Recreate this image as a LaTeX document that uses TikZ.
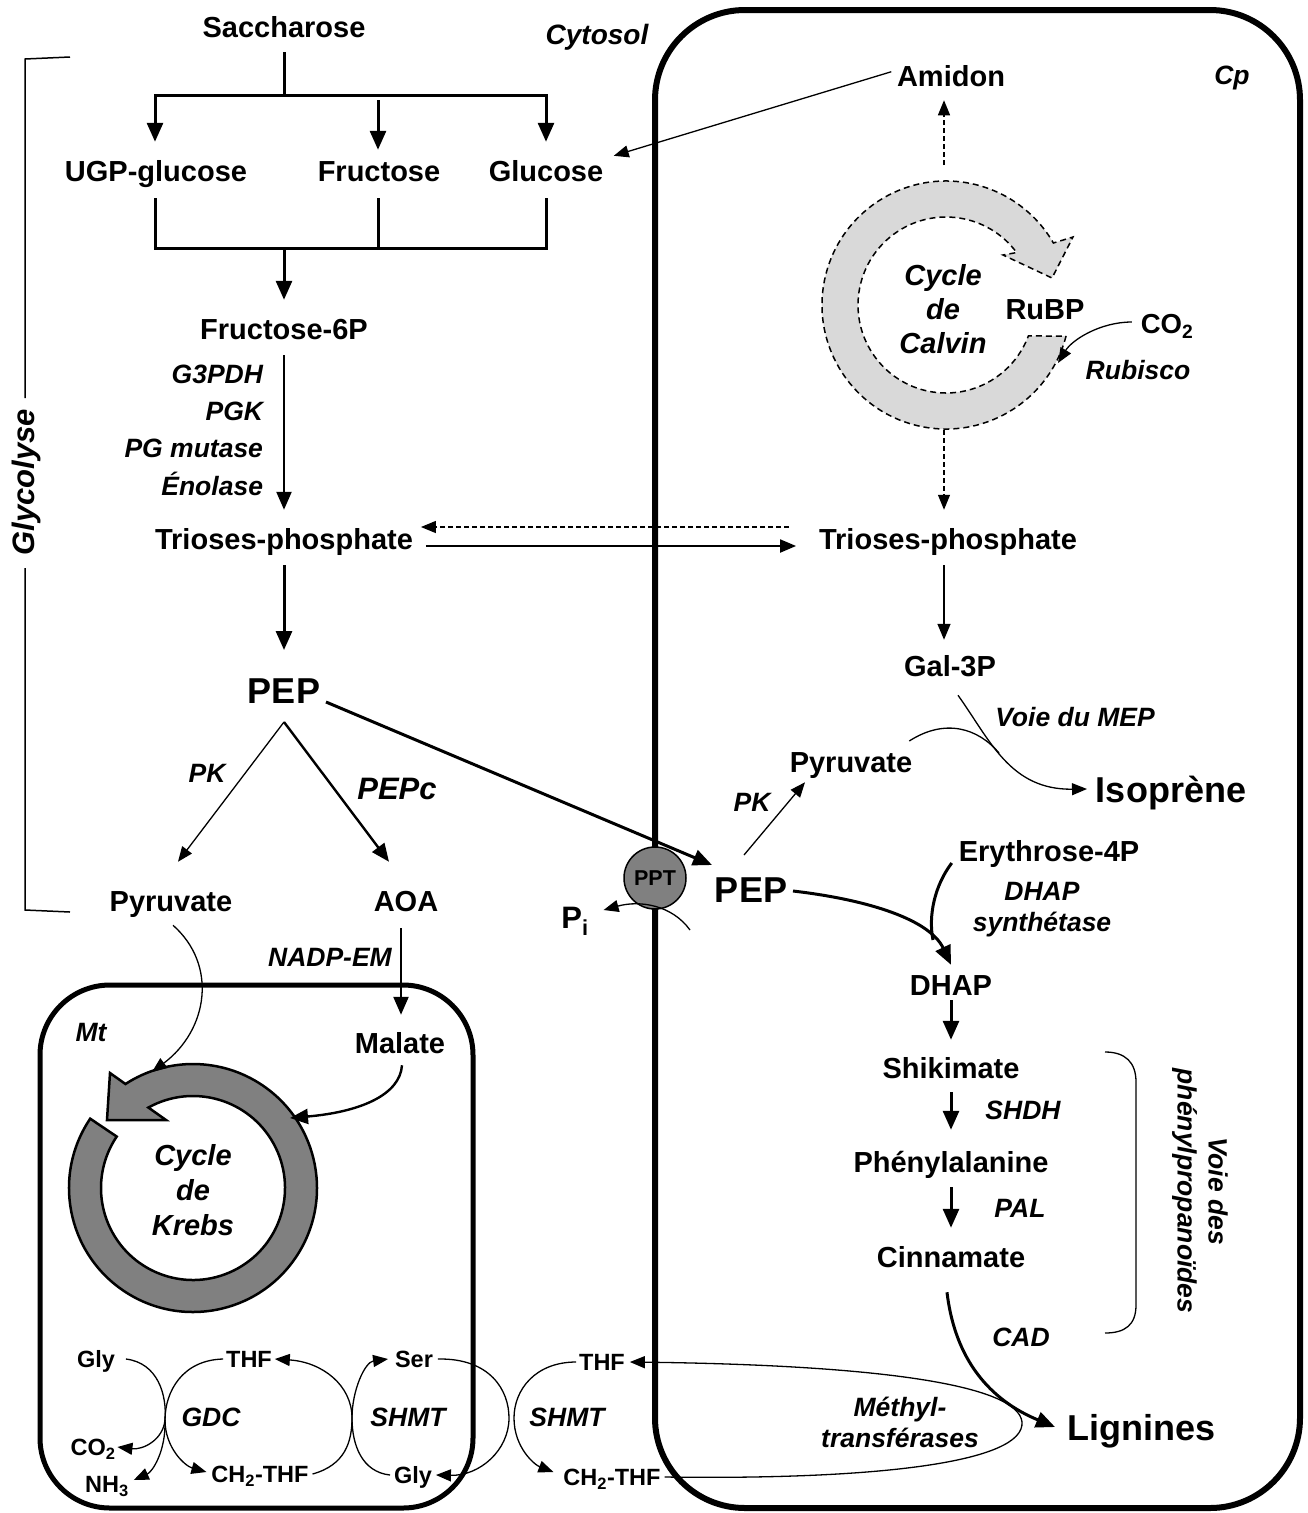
\documentclass[tikz,border=0pt]{standalone}
\usepackage{fontspec}
\setmainfont{Liberation Sans}
\usetikzlibrary{arrows.meta}
\definecolor{calv}{HTML}{D9D9D9}
\definecolor{kreb}{HTML}{808080}
\begin{document}
\begin{tikzpicture}[x=1pt,y=-1pt,
  every node/.style={inner sep=0pt, outer sep=0pt},
  t/.style={font=\fontsize{29}{32}\selectfont\bfseries, text height=20.5pt, text depth=0pt},
  it/.style={font=\fontsize{26.5}{31}\selectfont\bfseries\itshape, text height=19pt, text depth=0pt},
  itm/.style={font=\fontsize{26.5}{31}\selectfont\bfseries\itshape, align=center},
  big/.style={font=\fontsize{36}{40}\selectfont\bfseries, text height=26pt, text depth=0pt},
  sm/.style={font=\fontsize{23.5}{25}\selectfont\bfseries, text height=17pt, text depth=0pt},
  lA/.style={line width=3pt},
  aA/.style={line width=3pt, -{Triangle[length=19pt,width=16pt]}},
  aB/.style={line width=2.4pt, -{Triangle[length=18pt,width=15pt]}},
  aC/.style={line width=1.6pt, -{Triangle[length=16pt,width=13pt]}},
  aD/.style={line width=1.3pt, -{Triangle[length=15pt,width=12pt]}},
  dsh/.style={dash pattern=on 5pt off 3pt},
  ring/.style={line width=1.5pt, dash pattern=on 6pt off 4pt},
]
\useasboundingbox (0,0) rectangle (1308,1513);

% compartments
\draw[line width=6pt, rounded corners=90pt] (655,10) rectangle (1300,1508);
\draw[line width=5pt, rounded corners=70pt] (40,985) rectangle (473,1508);

% glycolysis bracket
\draw[line width=1.5pt] (70,57) -- (25,59) -- (25,398);
\draw[line width=1.5pt] (25,568) -- (25,910) -- (70,912);

% Calvin ring
\filldraw[fill=calv, draw=black, ring]
  ([shift={(14.5:124)}]946,305) arc[start angle=14.5, end angle=330, radius=124]
  -- (1073,237) -- (1052,278) -- (1003,255)
  -- ([shift={(323.4:88)}]946,305) arc[start angle=323.4, end angle=20.6, radius=88] -- cycle;

% Krebs ring
\filldraw[fill=kreb, draw=black, line width=2.5pt]
  ([shift={(214:124)}]193,1188) arc[start angle=214, end angle=-123, radius=124]
  -- (110,1073) -- (107,1120) -- (166,1120)
  -- ([shift={(-119:92)}]193,1188) arc[start angle=-119, end angle=214, radius=92] -- cycle;

% nodes
\node[t] (sac) at (284,27) {Saccharose};
\node[it, font=\fontsize{28}{31}\selectfont\bfseries\itshape] (cyt) at (597,35) {Cytosol};
\node[t] (ami) at (951,76) {Amidon};
\node[it] (cp) at (1232,75) {Cp};
\node[t] (ugp) at (156,171) {UGP-glucose};
\node[t] (fru) at (379,171) {Fructose};
\node[t] (glc) at (546,171) {Glucose};
\node[t] (f6p) at (284,329) {Fructose-6P};
\node[it, anchor=east] (g3pdh) at (263,374) {G3PDH};
\node[it, anchor=east] (pgk) at (263,411) {PGK};
\node[it, anchor=east] (pgm) at (263,448) {PG mutase};
\node[it, anchor=east] (eno) at (263,486) {Énolase};
\node[t] (triL) at (284,539) {Trioses-phosphate};
\node[t] (triR) at (948,539) {Trioses-phosphate};
\node[itm, font=\fontsize{29}{34}\selectfont\bfseries\itshape] (calvin) at (943,309) {Cycle\\de\\Calvin};
\node[t] (rubp) at (1045,309) {RuBP};
\node[t, font=\fontsize{27.5}{30}\selectfont\bfseries] (co2) at (1167,323) {CO\textsubscript{2}};
\node[it] (rub) at (1138,370) {Rubisco};
\node[t] (gal) at (950,666) {Gal-3P};
\node[it] (mep) at (1075,717) {Voie du MEP};
\node[t] (pyrR) at (851,762) {Pyruvate};
\node[big] (iso) at (1171,789) {Isoprène};
\node[it] (pkR) at (752,802) {PK};
\node[big] (pepL) at (284,690) {PEP};
\node[it] (pkL) at (207,773) {PK};
\node[it, font=\fontsize{31}{34}\selectfont\bfseries\itshape] (pepc) at (397,790) {PEPc};
\node[t] (ery) at (1049,851) {Erythrose-4P};
\node[itm] (dhaps) at (1042,910) {DHAP\\synthétase};
\node[big] (pepR) at (751,889) {PEP};
\node[circle, draw, fill=kreb, line width=1.5pt, minimum size=62pt, font=\fontsize{21.5}{22}\selectfont\bfseries] (ppt) at (655,878) {PPT};
\node[t, font=\fontsize{31}{32}\selectfont\bfseries] (pi) at (575,918) {P\textsubscript{i}};
\node[t] (pyrL) at (171,901) {Pyruvate};
\node[t] (aoa) at (406,901) {AOA};
\node[it] (nadp) at (330,957) {NADP-EM};
\node[t] (dhap) at (951,985) {DHAP};
\node[t] (mal) at (400,1043) {Malate};
\node[it] (mt) at (91,1032) {Mt};
\node[t] (shik) at (951,1068) {Shikimate};
\node[it] (shdh) at (1023,1110) {SHDH};
\node[t] (phe) at (951,1162) {Phénylalanine};
\node[it] (pal) at (1020,1208) {PAL};
\node[t] (cin) at (951,1257) {Cinnamate};
\node[it] (cad) at (1021,1337) {CAD};
\node[itm, rotate=-90] (voie) at (1200,1191) {Voie des\\phénylpropanoïdes};
\node[big] (lig) at (1141,1427) {Lignines};
\node[itm, font=\fontsize{29}{35}\selectfont\bfseries\itshape] (krebs) at (193,1190) {Cycle\\de\\Krebs};
\node[it, rotate=90, font=\fontsize{31}{32}\selectfont\bfseries\itshape] (glyco) at (25,482) {Glycolyse};
\node[sm] (gly1) at (96,1359) {Gly};
\node[sm] (thf1) at (249,1359) {THF};
\node[sm] (ser) at (414,1359) {Ser};
\node[it] (gdc) at (211,1417) {GDC};
\node[it] (shmt1) at (408,1417) {SHMT};
\node[sm] (co2b) at (93,1447) {CO\textsubscript{2}};
\node[sm] (nh3) at (107,1484) {NH\textsubscript{3}};
\node[sm] (ch2a) at (260,1474) {CH\textsubscript{2}-THF};
\node[sm] (gly2) at (413,1475) {Gly};
\node[sm] (thf2) at (602,1362) {THF};
\node[it] (shmt2) at (567,1417) {SHMT};
\node[sm] (ch2b) at (612,1477) {CH\textsubscript{2}-THF};
\node[itm] (meth) at (900,1422) {Méthyl-\\transférases};

% coordinates
\coordinate (jt) at (284,95);
\coordinate (jl) at (155,95);
\coordinate (jr) at (546,95);
\coordinate (jf) at (378,100);
\coordinate (kl) at (155,248);
\coordinate (kr) at (546,248);
\coordinate (kt) at (284,248);
\coordinate (ctop) at (944,165);
\coordinate (cbot) at (944,430);
\coordinate (rubin) at (1058,363);
\coordinate (pist) at (690,930);
\coordinate (kin1) at (152,1072);
\coordinate (kin2) at (290,1118);
\coordinate (gdcx) at (165,1420);
\coordinate (shx) at (352,1418);
\coordinate (loopx) at (509,1418);
\coordinate (shx2) at (514,1418);

% top distribution
\draw[lA, shorten <=15pt] (sac.south) -- (jt);
\draw[aA, shorten >=19pt] (jr) -- (jl) -- (jl |- ugp.north);
\draw[aA, shorten >=19pt] (jl) -- (jr) -- (jr |- glc.north);
\draw[aA, shorten >=11pt] (jf) -- (jf |- fru.north);
\draw[lA, shorten <=17pt, shorten >=17pt] (kl |- ugp.south) -- (kl) -- (kr) -- (kr |- glc.south);
\draw[lA, shorten <=17pt] (jf |- fru.south) -- (jf |- kl);
\draw[aA, shorten >=19pt] (kt) -- (f6p.north);

% glycolysis
\draw[aB, shorten <=16pt, shorten >=19pt] (f6p.south) -- (triL.north);
\draw[aA, shorten <=16pt, shorten >=27pt] (triL.south) -- (pepL.north);
\draw[aD, dsh, shorten <=30pt, shorten >=8pt] ([yshift=12pt]triR.west) -- ([yshift=12pt]triL.east);
\draw[aC, line width=2pt, shorten <=13pt, shorten >=23pt] ([yshift=-7pt]triL.east) -- ([yshift=-7pt]triR.west);
\draw[aD, shorten <=6pt, shorten >=11pt] ([yshift=6pt]ami.west) -- ([yshift=12pt]glc.east);

% Calvin
\draw[aD, dsh, shorten >=14pt] (ctop) -- (ctop |- ami.south);
\draw[aD, dsh, shorten >=19pt] (cbot) -- (cbot |- triR.north);
\draw[aD] ([shift={(-9pt,1pt)}]co2.west) .. controls (1100,322) and (1072,340) .. (rubin);
\draw[aC, shorten <=16pt, shorten >=16pt] (cbot |- triR.south) -- (cbot |- gal.north);

% PEP
\draw[aD] ([shift={(0pt,-19pt)}]pepL.south) -- ([shift={(7pt,29pt)}]pyrL.north);
\draw[aB] ([shift={(0pt,-19pt)}]pepL.south) -- ([shift={(-17pt,29pt)}]aoa.north);
\draw[aA] ([shift={(6pt,-12pt)}]pepL.east) -- ([shift={(-3pt,24pt)}]pepR.west);
\draw[aD] ([shift={(-7pt,21pt)}]pepR.north) -- ([shift={(-46pt,-10pt)}]pyrR.south);
\draw[aD] ([shift={(8pt,-19pt)}]gal.south) .. controls (990,740) and (1010,790) .. ([xshift=-9pt]iso.west);
\draw[line width=1.3pt] ([shift={(-3pt,21pt)}]pyrR.east) .. controls (945,718) and (978,728) .. (999,753);
\draw[aA] ([shift={(6pt,-2pt)}]pepR.east) .. controls (870,900) and (930,920) .. ([yshift=10pt]dhap.north);
\draw[lA] ([shift={(-7pt,-12pt)}]ery.west) .. controls (935,885) and (928,915) .. (933,940);
\draw[aD] (pist) .. controls (672,905) and (640,900) .. ([shift={(15pt,8pt)}]pi.east);

% shikimate path
\draw[aA, shorten <=5pt, shorten >=18pt] (dhap.south) -- (shik.north);
\draw[aA, shorten <=14pt, shorten >=22pt] (shik.south) -- (phe.north);
\draw[aA, shorten <=15pt, shorten >=19pt] (phe.south) -- (cin.north);
\draw[aA] ([shift={(-4pt,-25pt)}]cin.south) .. controls (955,1360) and (990,1400) .. ([xshift=-12pt]lig.west);
\draw[line width=1.3pt] (1105,1052) .. controls (1125,1052) and (1136,1062) .. (1136,1082) -- (1136,1305) .. controls (1136,1325) and (1125,1333) .. (1105,1333);

% mitochondrion inputs
\draw[aD] ([shift={(2pt,-14pt)}]pyrL.south) .. controls (218,965) and (208,1030) .. (kin1);
\draw[aB, shorten <=17pt, shorten >=18pt] ([xshift=-5pt]aoa.south) -- ([xshift=1pt]mal.north);
\draw[aB] ([shift={(2pt,-12pt)}]mal.south) .. controls (400,1095) and (360,1112) .. (kin2);

% C1 metabolism
\draw[line width=1.3pt] ([xshift=11pt]gly1.east) .. controls (158,1363) and (167,1395) .. (gdcx);
\draw[aD] (gdcx) .. controls (163,1440) and (143,1450) .. ([xshift=2pt]co2b.east);
\draw[aD] (gdcx) .. controls (166,1452) and (152,1472) .. ([shift={(5pt,4pt)}]nh3.east);
\draw[aD] ([xshift=-3pt]thf1.west) .. controls (182,1360) and (165,1392) .. (gdcx) .. controls (165,1448) and (185,1466) .. ([shift={(-5pt,2pt)}]ch2a.west);
\draw[aD] ([xshift=4pt]ch2a.east) .. controls (345,1465) and (352,1442) .. (shx) .. controls (352,1385) and (322,1362) .. ([xshift=3pt]thf1.east);
\draw[aD] ([xshift=-4pt]gly2.west) .. controls (362,1472) and (352,1445) .. (shx) .. controls (352,1390) and (365,1362) .. ([xshift=-7pt]ser.west);
\draw[aD] ([xshift=5pt]ser.east) .. controls (490,1358) and (509,1390) .. (loopx) .. controls (509,1450) and (480,1476) .. ([xshift=4pt]gly2.east);
\draw[aD] ([xshift=-3pt]thf2.west) .. controls (535,1362) and (514,1390) .. (shx2) .. controls (514,1448) and (535,1465) .. ([shift={(-10pt,5pt)}]ch2b.west);
\draw[aD] ([xshift=4pt]ch2b.east) .. controls (880,1480) and (1025,1462) .. (1022,1422) .. controls (1018,1385) and (880,1365) .. ([xshift=5pt]thf2.east);
\end{tikzpicture}
\end{document}
